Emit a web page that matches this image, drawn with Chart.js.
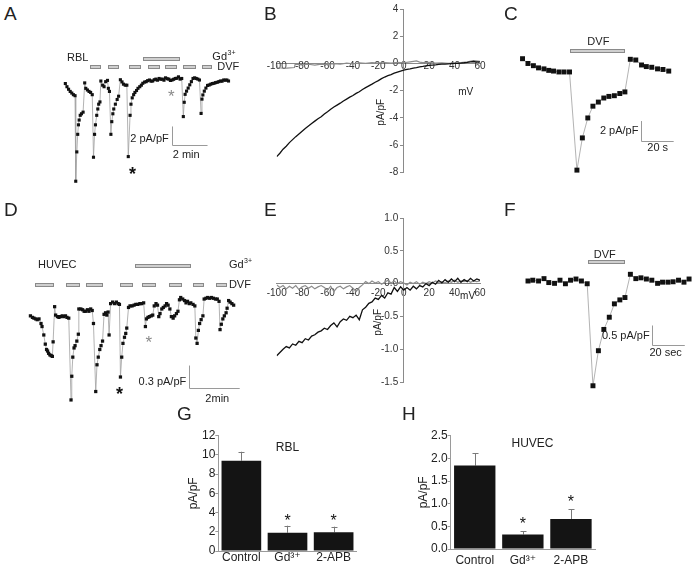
<!DOCTYPE html>
<html>
<head>
<meta charset="utf-8">
<script src="https://cdn.jsdelivr.net/npm/chart.js@4.4.1/dist/chart.umd.min.js"></script>
<style>
  html, body { margin: 0; padding: 0; background: #fff; }
  #fig { position: relative; width: 700px; height: 569px; overflow: hidden; font-family: "Liberation Sans", Arial, sans-serif; }
  #fig canvas { position: absolute; }
  .panel { position: absolute; font-size: 19px; line-height: 19px; color: #222; }
</style>
</head>
<body>
<div id="fig">
  <canvas id="chartA" width="260" height="170" style="left:0;top:30px"></canvas>
  <canvas id="chartB" width="240" height="190" style="left:255px;top:0"></canvas>
  <canvas id="chartC" width="200" height="160" style="left:500px;top:30px"></canvas>
  <canvas id="chartD" width="265" height="180" style="left:0;top:240px"></canvas>
  <canvas id="chartE" width="240" height="195" style="left:255px;top:205px"></canvas>
  <canvas id="chartF" width="200" height="170" style="left:500px;top:230px"></canvas>
  <canvas id="chartG" width="190" height="144" style="left:170px;top:425px"></canvas>
  <canvas id="chartH" width="205" height="144" style="left:395px;top:425px"></canvas>

  <div class="panel" style="left:4px;top:3.5px">A</div>
  <div class="panel" style="left:264px;top:3.5px">B</div>
  <div class="panel" style="left:504px;top:3.5px">C</div>
  <div class="panel" style="left:4px;top:199.5px">D</div>
  <div class="panel" style="left:264px;top:199.5px">E</div>
  <div class="panel" style="left:504px;top:199.5px">F</div>
  <div class="panel" style="left:177px;top:403.5px">G</div>
  <div class="panel" style="left:402px;top:403.5px">H</div>
</div>

<script>
// ---- data: [time (min or s), current (pA/pF)] ----
const rblTrace = [
  [0.07,-0.21],[0.16,-0.56],[0.25,-0.84],[0.34,-1.08],[0.43,-1.26],[0.52,-1.44],[0.61,-1.55],
  [0.65,-11.0],[0.71,-7.76],[0.76,-5.82],[0.80,-4.77],[0.84,-4.24],[0.90,-3.72],[0.97,-3.55],[1.06,-3.37],
  [1.15,-0.14],[1.21,-0.74],[1.30,-0.92],[1.39,-1.08],[1.48,-1.19],[1.57,-1.44],
  [1.64,-8.35],[1.70,-5.82],[1.75,-4.77],[1.82,-3.72],[1.88,-3.02],[1.93,-2.49],[2.00,-2.24],
  [2.05,0.07],[2.15,-0.39],[2.23,-0.56],[2.32,0.00],[2.42,0.14],[2.47,-0.74],[2.53,-1.08],
  [2.61,-5.82],[2.66,-4.42],[2.72,-3.55],[2.77,-3.02],[2.86,-2.49],[2.96,-1.97],[3.04,-1.61],
  [3.14,0.21],[3.23,-0.03],[3.31,-0.28],[3.41,-0.39],[3.50,-0.39],
  [3.58,-8.28],[3.68,-3.72],[3.73,-2.49],[3.80,-1.79],[3.88,-1.44],[3.95,-1.19],[4.04,-0.98],[4.12,-0.74],[4.22,-0.56],[4.31,-0.39],
  [4.39,-0.18],[4.49,-0.05],[4.58,0.00],[4.66,0.11],[4.76,0.18],[4.85,0.05],[4.94,0.07],[5.03,0.21],[5.12,0.28],[5.21,0.16],
  [5.30,0.35],[5.39,0.26],[5.48,0.28],[5.57,0.16],[5.66,0.42],[5.75,0.32],[5.84,0.28],[5.93,0.13],[6.02,0.18],[6.11,0.26],
  [6.20,0.35],[6.29,0.37],[6.38,0.53],[6.47,0.28],[6.56,0.35],
  [6.65,-3.86],[6.70,-2.28],[6.75,-1.40],[6.83,-1.05],[6.92,-0.71],[7.01,-0.35],[7.10,0.00],[7.19,0.35],[7.28,0.42],[7.37,0.35],[7.46,0.28],[7.55,0.18],
  [7.64,-3.51],[7.69,-1.93],[7.74,-1.47],[7.82,-1.05],[7.91,-0.71],[8.00,-0.42],[8.09,-0.37],[8.18,-0.28],[8.27,-0.21],[8.36,-0.18],
  [8.45,-0.11],[8.54,-0.07],[8.63,0.00],[8.72,0.07],[8.81,0.05],[8.90,0.18],[8.99,0.16],[9.08,0.18],[9.17,0.07]
];
const rblDvfPeriods = [[1.42,2.05],[2.47,3.08],[3.64,4.31],[4.66,5.34],[5.62,6.32],[6.65,7.37],[7.68,8.27]];
const rblGdPeriod = [4.39,6.47];

const rblPulse = [
  [0,0],[3.3,-0.48],[6.6,-0.70],[9.7,-0.92],[13.0,-1.02],[15.9,-1.17],[18.8,-1.24],[22.1,-1.33],[25.2,-1.33],[28.5,-1.33],
  [33.0,-11.17],[36.3,-7.94],[39.6,-5.94],[42.7,-4.76],[46.0,-4.35],[49.3,-3.94],[52.4,-3.78],[55.7,-3.71],[59.0,-3.49],[62.1,-3.33],
  [65.4,-0.06],[68.7,-0.13],[72.2,-0.63],[75.1,-0.79],[78.4,-0.86],[81.9,-1.02],[85.2,-1.08],[88.7,-1.24]
];
const rblPulseDvf = [29.1,62.1];

const huvecTrace = [
  [0.01,-0.19],[0.09,-0.21],[0.15,-0.22],[0.22,-0.23],[0.28,-0.24],[0.35,-0.23],[0.43,-0.29],[0.47,-0.33],[0.54,-0.44],[0.60,-0.56],
  [0.65,-0.63],[0.69,-0.65],[0.73,-0.68],[0.78,-0.70],[0.83,-0.71],[0.88,-0.72],[0.91,-0.53],[0.97,-0.07],[1.01,-0.18],[1.08,-0.20],
  [1.14,-0.21],[1.20,-0.20],[1.27,-0.19],[1.33,-0.20],[1.40,-0.19],[1.46,-0.21],[1.53,-0.22],
  [1.62,-1.29],[1.65,-0.98],[1.69,-0.73],[1.74,-0.61],[1.78,-0.58],[1.85,-0.52],[1.91,-0.43],
  [1.93,-0.10],[2.01,-0.10],[2.08,-0.11],[2.14,-0.13],[2.20,-0.13],[2.27,-0.11],[2.33,-0.13],[2.40,-0.10],[2.46,-0.12],[2.51,-0.29],
  [2.60,-1.18],[2.65,-0.83],[2.70,-0.73],[2.76,-0.63],[2.81,-0.58],[2.87,-0.52],
  [2.93,-0.17],[2.99,-0.15],[3.04,-0.18],[3.09,-0.14],[3.13,-0.44],[3.19,-0.03],[3.27,-0.01],[3.35,-0.03],[3.42,-0.01],[3.49,-0.03],[3.54,-0.04],
  [3.58,-0.99],[3.63,-0.73],[3.68,-0.55],[3.74,-0.47],[3.79,-0.42],[3.83,-0.35],
  [3.90,-0.08],[3.96,-0.06],[4.04,-0.06],[4.12,-0.05],[4.19,-0.04],[4.27,-0.04],[4.35,-0.03],[4.42,-0.03],[4.50,-0.02],
  [4.57,-0.33],[4.61,-0.23],[4.67,-0.21],[4.73,-0.20],[4.80,-0.19],[4.86,-0.18],[4.92,-0.06],[4.99,-0.03],[5.05,-0.05],
  [5.10,-0.20],[5.15,-0.16],[5.22,-0.10],[5.28,-0.08],[5.35,-0.06],[5.41,-0.03],[5.47,-0.05],[5.54,-0.10],
  [5.60,-0.20],[5.67,-0.22],[5.73,-0.19],[5.80,-0.16],[5.86,-0.13],
  [5.92,0.02],[5.97,0.05],[6.05,0.03],[6.12,0.01],[6.18,-0.02],[6.24,0.00],[6.31,-0.03],[6.37,-0.02],[6.46,-0.04],[6.53,-0.06],
  [6.57,-0.48],[6.62,-0.55],[6.67,-0.38],[6.72,-0.29],[6.78,-0.24],[6.85,-0.19],
  [6.90,0.03],[6.97,0.04],[7.04,0.05],[7.12,0.04],[7.19,0.05],[7.27,0.04],[7.35,0.03],[7.42,0.03],[7.49,0.00],
  [7.53,-0.37],[7.58,-0.30],[7.64,-0.23],[7.70,-0.19],[7.77,-0.15],[7.81,-0.09],
  [7.87,0.01],[7.93,-0.01],[8.00,-0.03],[8.07,-0.05]
];
const huvecDvfPeriods = [[0.20,0.95],[1.43,1.97],[2.20,2.87],[3.55,4.09],[4.45,4.99],[5.50,6.01],[6.44,6.91],[7.36,7.81]];
const huvecGdPeriod = [4.15,6.37];

const huvecPulse = [
  [0,0],[2.9,0.02],[6.4,0],[9.7,0.06],[12.6,-0.04],[16.1,-0.06],[19.4,0.02],[22.7,-0.07],[25.8,0.02],[29.1,0.05],[32.4,0],[35.9,-0.07],
  [39.4,-2.66],[42.7,-1.77],[46.0,-1.23],[49.3,-0.92],[52.4,-0.58],[55.7,-0.48],[58.8,-0.42],
  [62.1,0.17],[65.4,0.06],[68.5,0.08],[71.8,0.05],[75.1,0.02],[78.6,-0.06],[81.6,-0.03],[84.9,-0.03],[88.0,-0.02],[91.3,0.02],[94.6,-0.03],[97.7,0.05]
];
const huvecPulseDvf = [36.3,58.8];

// I-V ramps: [mV, pA/pF]
const rblIvDvf = [
  [-100,-6.85],[-97.5,-6.6],[-95,-6.3],[-92.5,-6.08],[-90,-5.82],[-87.5,-5.6],[-85,-5.38],[-82.5,-5.18],[-80,-4.98],[-77.5,-4.78],
  [-75,-4.6],[-72.5,-4.42],[-70,-4.24],[-67.5,-4.06],[-65,-3.92],[-62.5,-3.72],[-60,-3.55],[-57.5,-3.36],[-55,-3.2],[-52.5,-3.06],
  [-50,-2.92],[-47.5,-2.76],[-45,-2.62],[-42.5,-2.48],[-40,-2.36],[-37.5,-2.2],[-35,-2.08],[-32.5,-1.92],[-30,-1.78],[-27.5,-1.65],
  [-25,-1.52],[-22.5,-1.38],[-20,-1.26],[-17.5,-1.12],[-15,-1.0],[-12.5,-0.9],[-10,-0.82],[-7.5,-0.72],[-5,-0.64],[-2.5,-0.56],
  [0,-0.5],[2.5,-0.44],[5,-0.4],[7.5,-0.34],[10,-0.3],[12.5,-0.25],[15,-0.22],[17.5,-0.18],[20,-0.15],[22.5,-0.12],
  [25,-0.1],[27.5,-0.07],[30,-0.05],[32.5,-0.05],[35,-0.03],[37.5,-0.01],[40,0.0],[42.5,0.01],[45,0.03],[47.5,0.05],
  [50,0.08],[52.5,0.12],[55,0.14],[57.5,0.1],[60,0.12]
];
const rblIvGd = [
  [-100,-0.05],[-99.5,-0.32],[-92,-0.34],[-86,-0.3],[-85.5,-0.06],[-80,-0.1],[-75,-0.06],[-70,-0.12],[-65,-0.05],[-60,-0.08],
  [-55,-0.02],[-50,-0.06],[-45,0.02],[-40,-0.03],[-35,0.04],[-30,0.0],[-25,0.06],[-20,0.02],[-15,0.07],[-10,0.03],[-5,0.08],
  [0,0.05],[5,0.12],[10,0.18],[12.5,0.1],[15,0.06],[20,0.08],[25,0.02],[30,0.04],[35,0.0],[40,0.03],[45,0.06],[50,0.12],[55,0.2],[60,0.16]
];
const huvecIvDvf = [
  [-100,-1.10],[-97.5,-1.05],[-95,-1.00],[-92.5,-0.96],[-90,-0.98],[-87.5,-0.92],[-85,-0.94],[-82.5,-0.88],[-80,-0.90],[-77.5,-0.84],
  [-75,-0.86],[-72.5,-0.80],[-70,-0.78],[-67.5,-0.74],[-65,-0.72],[-62.5,-0.68],[-60,-0.70],[-57.5,-0.64],[-55,-0.60],[-52.5,-0.66],
  [-50,-0.58],[-47.5,-0.54],[-45,-0.56],[-42.5,-0.50],[-40,-0.52],[-37.5,-0.48],[-35,-0.55],[-32.5,-0.40],[-30,-0.36],[-27.5,-0.30],
  [-25,-0.28],[-22.5,-0.22],[-20,-0.24],[-17.5,-0.18],[-15,-0.22],[-12.5,-0.14],[-10,-0.16],[-7.5,-0.06],[-5,-0.12],[-2.5,-0.05],
  [0,-0.10],[2.5,-0.06],[5,-0.10],[7.5,-0.04],[10,-0.08],[12.5,-0.03],[15,-0.05],[17.5,0.0],[20,-0.03],[22.5,0.02],
  [25,-0.01],[27.5,0.05],[30,0.01],[32.5,0.06],[35,0.02],[37.5,0.07],[40,0.03],[42.5,0.08],[45,0.02],[47.5,0.06],
  [50,0.03],[52.5,0.08],[55,0.04],[57.5,0.07],[60,0.05]
];
const huvecIvGd = [
  [-100,-0.02],[-97.5,-0.06],[-95,-0.03],[-92.5,-0.08],[-90,-0.04],[-87.5,-0.07],[-85,-0.03],[-82.5,-0.09],[-80,-0.05],[-77.5,-0.03],
  [-75,-0.07],[-72.5,-0.04],[-70,-0.08],[-67.5,-0.05],[-65,-0.03],[-62.5,-0.06],[-60,-0.10],[-57.5,-0.04],[-55,-0.12],[-52.5,-0.06],
  [-50,-0.04],[-47.5,-0.08],[-45,-0.05],[-42.5,-0.03],[-40,-0.07],[-37.5,-0.12],[-35,-0.06],[-32.5,-0.02],[-30,0.03],[-27.5,0.0],
  [-25,0.04],[-22.5,0.01],[-20,0.03],[-17.5,-0.01],[-15,0.02],[-12.5,0.05],[-10,0.01],[-7.5,0.04],[-5,0.0],[-2.5,0.03],
  [0,0.01],[2.5,-0.02],[5,0.02],[7.5,0.0],[10,0.03],[12.5,-0.01],[15,0.02],[17.5,0.0],[20,0.03],[22.5,0.01],
  [25,0.04],[27.5,0.02],[30,0.03],[32.5,0.01],[35,0.04],[37.5,0.02],[40,0.05],[42.5,0.02],[45,0.04],[47.5,0.03],
  [50,0.05],[52.5,0.02],[55,0.04],[57.5,0.03],[60,0.04]
];

// summary bars
const barLabels = ['Control', 'Gd³⁺', '2-APB'];
const rblMeans = [9.4, 1.9, 1.95];
const rblErrors = [0.93, 0.73, 0.58];
const huvecMeans = [1.84, 0.32, 0.66];
const huvecErrors = [0.27, 0.07, 0.22];

const FONT = "'Liberation Sans', 'DejaVu Sans', Arial, sans-serif";

// extra marks drawn in value space: application bars, scale bars, labels
function decorPlugin(items) {
  return {
    id: 'decor',
    afterDatasetsDraw(chart) {
      const ctx = chart.ctx;
      const sx = chart.scales.x, sy = chart.scales.y;
      ctx.save();
      items.forEach(function (it) {
        if (it.bar) {
          const x0 = Math.round(sx.getPixelForValue(it.bar[0]));
          const x1 = Math.round(sx.getPixelForValue(it.bar[1]));
          const y = Math.round(sy.getPixelForValue(it.y));
          ctx.fillStyle = '#cfcfcf';
          ctx.strokeStyle = '#8a8a8a';
          ctx.lineWidth = 1;
          ctx.fillRect(x0, y - 2, x1 - x0, 4);
          ctx.strokeRect(x0 + 0.5, y - 1.5, x1 - x0 - 1, 3);
        } else if (it.scale) {
          const x = Math.round(sx.getPixelForValue(it.x)) + 0.5;
          const y = Math.round(sy.getPixelForValue(it.y)) + 0.5;
          ctx.strokeStyle = '#9a9a9a';
          ctx.lineWidth = 1;
          ctx.beginPath();
          ctx.moveTo(x, sy.getPixelForValue(it.y + it.dy));
          ctx.lineTo(x, y);
          ctx.lineTo(sx.getPixelForValue(it.x + it.dx), y);
          ctx.stroke();
        } else if (it.text) {
          const size = it.size || 11;
          const base = (it.weight || '') + ' ' + size + 'px ' + FONT;
          const small = Math.round(size * 0.62) + 'px ' + FONT;
          ctx.font = base;
          const w = ctx.measureText(it.text).width;
          let sw = 0;
          if (it.sup) { ctx.font = small; sw = ctx.measureText(it.sup).width; ctx.font = base; }
          const total = w + sw;
          let x0 = 0;
          if (it.align === 'right') x0 = -total;
          else if (it.align !== 'left') x0 = -total / 2;
          ctx.translate(sx.getPixelForValue(it.x), sy.getPixelForValue(it.y));
          if (it.rot) ctx.rotate(it.rot * Math.PI / 180);
          ctx.fillStyle = it.color || '#222';
          ctx.textAlign = 'left';
          if (it.star) {
            ctx.textBaseline = 'alphabetic';
            ctx.fillText(it.text, x0, size * 0.58);
          } else {
            ctx.textBaseline = 'middle';
            ctx.fillText(it.text, x0, 0);
          }
          if (it.sup) {
            ctx.font = small;
            ctx.fillText(it.sup, x0 + w + 0.5, -size * 0.38);
          }
          ctx.setTransform(1, 0, 0, 1, 0, 0);
        }
      });
      ctx.restore();
    }
  };
}

function errorBarPlugin(errors) {
  return {
    id: 'errorBars',
    beforeDatasetsDraw(chart) {
      const ctx = chart.ctx;
      const sy = chart.scales.y;
      const values = chart.data.datasets[0].data;
      ctx.save();
      ctx.strokeStyle = '#7a7a7a';
      ctx.lineWidth = 1;
      chart.getDatasetMeta(0).data.forEach(function (bar, i) {
        const x = Math.round(bar.x) + 0.5;
        const top = sy.getPixelForValue(values[i] + errors[i]);
        ctx.beginPath();
        ctx.moveTo(x, sy.getPixelForValue(values[i]));
        ctx.lineTo(x, top);
        ctx.moveTo(x - 3, Math.round(top) + 0.5);
        ctx.lineTo(x + 3, Math.round(top) + 0.5);
        ctx.stroke();
      });
      ctx.restore();
    }
  };
}

const baseOptions = {
  responsive: false,
  animation: false,
  events: [],
  plugins: { legend: { display: false }, tooltip: { enabled: false } }
};

// time course panels: squares joined by thin grey lines, no axes
function traceChart(id, points, xRange, yRange, radius, items) {
  new Chart(document.getElementById(id), {
    type: 'scatter',
    data: {
      datasets: [{
        data: points.map(p => ({ x: p[0], y: p[1] })),
        showLine: true,
        borderColor: '#a0a0a0',
        borderWidth: 0.8,
        pointStyle: 'rect',
        pointRadius: radius,
        pointBackgroundColor: '#111',
        pointBorderWidth: 0,
        clip: false
      }]
    },
    options: Object.assign({}, baseOptions, {
      layout: { padding: 0 },
      scales: {
        x: { type: 'linear', display: false, min: xRange[0], max: xRange[1] },
        y: { type: 'linear', display: false, min: yRange[0], max: yRange[1] }
      }
    }),
    plugins: [decorPlugin(items)]
  });
}

// I-V panels: axes crossing at the origin
function ivChart(id, dvf, gd, yMin, yMax, yStep, digits, padding, xLabelPad, items) {
  const tickFont = { family: FONT, size: 10 };
  new Chart(document.getElementById(id), {
    type: 'scatter',
    data: {
      datasets: [
        { data: dvf.map(p => ({ x: p[0], y: p[1] })), showLine: true, borderColor: '#111', borderWidth: 1.3, pointRadius: 0 },
        { data: gd.map(p => ({ x: p[0], y: p[1] })), showLine: true, borderColor: '#8c8c8c', borderWidth: 1.2, pointRadius: 0 }
      ]
    },
    options: Object.assign({}, baseOptions, {
      layout: { padding: padding },
      scales: {
        x: {
          type: 'linear', min: -100, max: 60, position: { y: 0 },
          ticks: { stepSize: 20, autoSkip: false, maxRotation: 0, font: tickFont, color: '#333', padding: xLabelPad, callback: v => String(v) },
          grid: { drawOnChartArea: false, drawTicks: false },
          border: { color: '#8a8a8a', width: 1 }
        },
        y: {
          type: 'linear', min: yMin, max: yMax, position: { x: 0 },
          ticks: { stepSize: yStep, font: tickFont, color: '#333', callback: v => v.toFixed(digits) + '  ' },
          grid: { drawOnChartArea: false, tickLength: 3, color: '#8a8a8a' },
          border: { color: '#8a8a8a', width: 1 }
        }
      }
    }),
    plugins: [decorPlugin(items)]
  });
}

// summary bar panels
function barChart(id, means, errors, yMax, yStep, digits, yWidth, xHeight, padding, xLabelPad, titlePad, items) {
  const font = { family: FONT, size: 12 };
  new Chart(document.getElementById(id), {
    type: 'bar',
    data: {
      labels: barLabels,
      datasets: [{ data: means, backgroundColor: '#141414', borderWidth: 0, barPercentage: 0.86, categoryPercentage: 1.0 }]
    },
    options: Object.assign({}, baseOptions, {
      layout: { padding: padding },
      scales: {
        x: {
          ticks: { font: font, color: '#222', padding: xLabelPad },
          grid: { drawOnChartArea: false, drawTicks: false },
          border: { color: '#9a9a9a' },
          afterFit: s => { s.height = xHeight; }
        },
        y: {
          min: 0, max: yMax,
          ticks: { stepSize: yStep, font: font, color: '#222', padding: 0, callback: v => v.toFixed(digits) },
          grid: { drawOnChartArea: false, tickLength: 3, color: '#9a9a9a' },
          border: { color: '#9a9a9a' },
          title: { display: true, text: 'pA/pF', font: font, color: '#222', padding: { top: titlePad, bottom: 0 } },
          afterFit: s => { s.width = yWidth; }
        }
      }
    }),
    plugins: [errorBarPlugin(errors), decorPlugin(items)]
  });
}

// A
traceChart('chartA', rblTrace, [-3.351, 10.703], [-12.632, 5.263], 2.2,
  rblDvfPeriods.map(p => ({ bar: p, y: 1.58 })).concat([
    { bar: rblGdPeriod, y: 2.53 },
    { text: 'RBL', x: 0.16, y: 2.63, align: 'left' },
    { text: 'Gd', sup: '3+', x: 8.27, y: 2.74, align: 'left' },
    { text: 'DVF', x: 8.54, y: 1.58, align: 'left' },
    { scale: true, x: 6.0, y: -6.95, dx: 2, dy: 2 },
    { text: '2 pA/pF', x: 5.84, y: -6.3, align: 'right' },
    { text: '2 min', x: 6.81, y: -8.1 },
    { text: '*', star: true, x: 3.82, y: -9.75, size: 18, weight: 'bold', color: '#111' },
    { text: '*', star: true, x: 5.98, y: -1.12, size: 17, color: '#8a8a8a' }
  ]));

// B
ivChart('chartB', rblIvDvf, rblIvGd, -8, 4, 2, 0, { left: 21.7, right: 15, top: 5.7, bottom: 17.7 }, -3, [
  { text: 'pA/pF', x: -17.5, y: -3.59, rot: -90, size: 10 },
  { text: 'mV', x: 48.8, y: -2.1, size: 10 }
]);

// C
traceChart('chartC', rblPulse, [-11.24, 105.24], [-12.762, 2.476], 3.5, [
  { bar: rblPulseDvf, y: 0.73 },
  { text: 'DVF', x: 46, y: 1.68 },
  { scale: true, x: 71.7, y: -8.25, dx: 20, dy: 2 },
  { text: '2 pA/pF', x: 70.3, y: -7.2, align: 'right' },
  { text: '20 s', x: 82, y: -8.95 }
]);

// D
traceChart('chartD', huvecTrace, [-1.038, 9.154], [-1.5, 0.75], 2.3,
  huvecDvfPeriods.map(p => ({ bar: p, y: 0.22 })).concat([
    { bar: huvecGdPeriod, y: 0.46 },
    { text: 'HUVEC', x: 0.31, y: 0.48, align: 'left' },
    { text: 'Gd', sup: '3+', x: 7.88, y: 0.47, align: 'left' },
    { text: 'DVF', x: 7.88, y: 0.21, align: 'left' },
    { scale: true, x: 6.31, y: -1.14, dx: 2, dy: 0.3 },
    { text: '0.3 pA/pF', x: 6.19, y: -1.05, align: 'right' },
    { text: '2min', x: 7.42, y: -1.28 },
    { text: '*', star: true, x: 3.54, y: -1.15, size: 18, weight: 'bold', color: '#111' },
    { text: '*', star: true, x: 4.70, y: -0.48, size: 17, color: '#8a8a8a' }
  ]));

// E
ivChart('chartE', huvecIvDvf, huvecIvGd, -1.5, 1.0, 0.5, 1, { left: 21.7, right: 15, top: 13, bottom: 18 }, 4, [
  { text: 'pA/pF', x: -20, y: -0.59, rot: -90, size: 10 },
  { text: 'mV', x: 50.2, y: -0.2, size: 10 }
]);

// F
traceChart('chartF', huvecPulse, [-14.56, 101.9], [-2.92, 1.193], 3.5, [
  { bar: huvecPulseDvf, y: 0.47 },
  { text: 'DVF', x: 46.6, y: 0.67 },
  { scale: true, x: 75.1, y: -1.63, dx: 20, dy: 0.5 },
  { text: '0.5 pA/pF', x: 73.8, y: -1.40, align: 'right' },
  { text: '20 sec', x: 83.5, y: -1.83 }
]);

// G
barChart('chartG', rblMeans, rblErrors, 12, 2, 0, 48.3, 18, { top: 10.7, right: 3.3, left: 0, bottom: 0 }, -1, 16, [
  { text: 'RBL', x: 1.0, y: 10.8, size: 12 },
  { text: '*', star: true, x: 1, y: 3.57, size: 16, color: '#111' },
  { text: '*', star: true, x: 2, y: 3.57, size: 16, color: '#111' }
]);

// H
barChart('chartH', huvecMeans, huvecErrors, 2.5, 0.5, 1, 55.7, 20, { top: 10.7, right: 5, left: 0, bottom: 0 }, 4, 21, [
  { text: 'HUVEC', x: 1.2, y: 2.32, size: 12 },
  { text: '*', star: true, x: 1, y: 0.64, size: 16, color: '#111' },
  { text: '*', star: true, x: 2, y: 1.14, size: 16, color: '#111' }
]);
</script>
</body>
</html>
